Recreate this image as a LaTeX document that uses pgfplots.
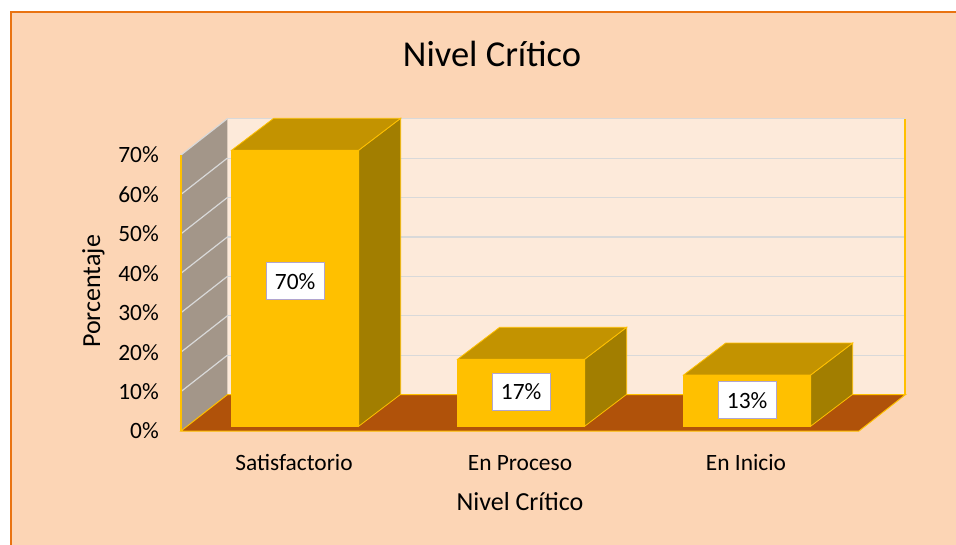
\documentclass[border=0pt]{standalone}
\usepackage{pgfplots}
\pgfplotsset{compat=1.18}
\usepackage{pgfplotstable}
\usepackage{fontspec}
\setmainfont{Carlito}

\definecolor{bg}{HTML}{FCD5B5}
\definecolor{frameor}{HTML}{E97311}
\definecolor{backwall}{HTML}{FDEADA}
\definecolor{sidewall}{HTML}{A39689}
\definecolor{floorc}{HTML}{B0520A}
\definecolor{barfront}{HTML}{FFC000}
\definecolor{bartop}{HTML}{C39300}
\definecolor{barside}{HTML}{A27E00}
\definecolor{gridc}{HTML}{D9D9D9}
\definecolor{edgec}{HTML}{FFC000}
\definecolor{lblborder}{HTML}{B1A5CF}

\pgfplotstableread{
idx val
0 70
1 17
2 13
}\datatable

\tikzset{lbl/.style={draw=lblborder, fill=white, line width=1bp, minimum width=58bp, minimum height=37bp, inner sep=0pt, font=\fontsize{23.4bp}{28bp}\selectfont}}

\begin{document}
\begin{tikzpicture}
\useasboundingbox (0,0) rectangle (956bp,545bp);
\fill[white] (0,0) rectangle (956bp,545bp);
\fill[bg] (11bp,0) rectangle (956bp,533bp);
\draw[frameor, line width=2.2bp] (11bp,0) -- (11bp,533bp) -- (956bp,533bp);
\begin{axis}[
  at={(181bp,114bp)}, anchor=south west, scale only axis,
  width=724.3bp, height=312.3bp,
  xmin=-0.5, xmax=2.705, ymin=0, ymax=79.2,
  clip=false,
  axis line style={draw=none},
  tick style={draw=none},
  major tick length=0pt,
  ytick={0,10,20,30,40,50,60,70},
  yticklabels={0\%,10\%,20\%,30\%,40\%,50\%,60\%,70\%},
  xtick={0,1,2},
  xticklabels={Satisfactorio,En Proceso,En Inicio},
  tick label style={font=\fontsize{23.4bp}{28bp}\selectfont},
  yticklabel style={anchor=east, inner sep=0pt, xshift=-22bp},
  xticklabel style={anchor=base, inner sep=0pt, yshift=-39bp},
  xlabel={Nivel Crítico},
  ylabel={Porcentaje},
  xlabel style={at={(axis description cs:0.468,0)}, anchor=base, yshift=-79bp, inner sep=0pt, font=\fontsize{26bp}{30bp}\selectfont},
  ylabel style={at={(axis description cs:-0.1118,0.447)}, anchor=base, inner sep=0pt, font=\fontsize{26bp}{30bp}\selectfont},
  title={Nivel Crítico},
  title style={at={(axis description cs:0.4294,1.147)}, anchor=base, inner sep=0pt, font=\fontsize{36.5bp}{42bp}\selectfont},
]
% back wall
\addplot[fill=backwall, draw=none] coordinates {(-0.295,9.2) (2.705,9.2) (2.705,79.2) (-0.295,79.2)} -- cycle;
% left wall
\addplot[fill=sidewall, draw=none] coordinates {(-0.5,0) (-0.295,9.2) (-0.295,79.2) (-0.5,70)} -- cycle;
% floor
\addplot[fill=floorc, draw=edgec, line width=1bp] coordinates {(-0.5,0) (2.5,0) (2.705,9.2) (-0.295,9.2)} -- cycle;
% grid lines
\pgfplotsinvokeforeach{10,20,30,40,50,60,70}{
  \pgfmathsetmacro\yy{#1+9.2}
  \edef\doplot{\noexpand\addplot[gridc, line width=1.2bp] coordinates {(-0.295,\yy) (2.705,\yy)};}\doplot
  \edef\doplot{\noexpand\addplot[gridc, line width=1.2bp] coordinates {(-0.5,#1) (-0.295,\yy)};}\doplot
}
% wall edges
\addplot[edgec, line width=1.5bp] coordinates {(-0.5,0) (-0.5,70)};
\addplot[edgec, line width=1.8bp] coordinates {(2.705,9.2) (2.705,79.2)};
% bars
\pgfplotsinvokeforeach{0,1,2}{
  \pgfplotstablegetelem{#1}{val}\of\datatable
  \let\v=\pgfplotsretval
  \pgfmathsetmacro\xl{#1-0.276}
  \pgfmathsetmacro\xr{#1+0.286}
  \pgfmathsetmacro\xlb{#1-0.09}
  \pgfmathsetmacro\xrb{#1+0.472}
  \pgfmathsetmacro\yb{1.2}
  \pgfmathsetmacro\yt{\v+1.2}
  \pgfmathsetmacro\ybb{1.2+8.1}
  \pgfmathsetmacro\ytb{\v+1.2+8.1}
  \pgfmathsetmacro\xc{#1+0.005}
  \pgfmathsetmacro\ylab{0.53*\v+0.9}
  \edef\doplot{\noexpand\addplot[fill=barside, draw=edgec, line width=0.8bp] coordinates {(\xr,\yb) (\xrb,\ybb) (\xrb,\ytb) (\xr,\yt)} -- cycle;}\doplot
  \edef\doplot{\noexpand\addplot[fill=bartop, draw=edgec, line width=0.8bp] coordinates {(\xl,\yt) (\xr,\yt) (\xrb,\ytb) (\xlb,\ytb)} -- cycle;}\doplot
  \edef\doplot{\noexpand\addplot[fill=barfront, draw=edgec, line width=0.8bp] coordinates {(\xl,\yb) (\xr,\yb) (\xr,\yt) (\xl,\yt)} -- cycle;}\doplot
  \edef\doit{\noexpand\node[lbl] at (axis cs:\xc,\ylab) {\v\noexpand\%};}\doit
}
\end{axis}
\end{tikzpicture}
\end{document}
